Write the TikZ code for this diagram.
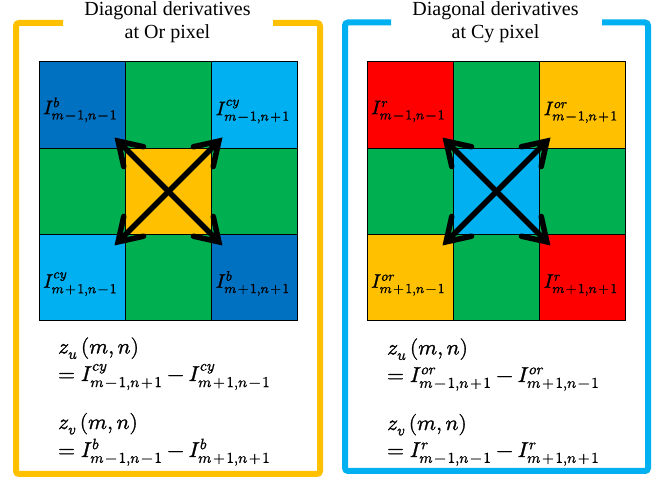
\documentclass[tikz,border=0pt]{standalone}
\usepackage{fontspec}
\usepackage{unicode-math}
\setmainfont{Liberation Serif}
\setmathfont{latinmodern-math.otf}[FakeBold=1.2]
\usetikzlibrary{arrows.meta,calc}
\definecolor{cOr}{HTML}{FFC000}
\definecolor{cCy}{HTML}{00B0F0}
\definecolor{cB}{HTML}{0070C0}
\definecolor{cG}{HTML}{00B050}
\definecolor{cR}{HTML}{FF0000}
% index m#1#2,n#3#4 in subscript, with spaced operators
\newcommand\idx[4]{m\mkern2mu#1\mkern2mu#2,n\mkern2mu#3\mkern2mu#4}
\newcommand\Iv[2]{I^{#1}_{#2}}
\newcommand\zv[1]{z_{#1}\,(m,n)}
\begin{document}
\begin{tikzpicture}[x=1pt,y=-1pt,
 cell/.style={draw=black,line width=1pt,minimum size=86.3pt,inner sep=0pt,anchor=center},
 lab/.style={anchor=base,inner sep=0pt,font=\fontsize{19.5}{22}\selectfont},
 frame/.style={line width=6pt,rounded corners=3pt},
 title/.style={font=\fontsize{20}{23}\selectfont,anchor=base,inner sep=0pt},
 eq/.style={anchor=base west,inner sep=0pt,font=\fontsize{21.5}{24}\selectfont},
 diag/.style={line width=5.5pt,-{Straight Barb[length=22pt,width=28pt,line cap=round]}}
]
\useasboundingbox (0,0) rectangle (657,481);
% frames
\draw[frame,cOr] (63,23) -- (16,23) -- (16,474) -- (320,474) -- (320,23) -- (273,23);
\draw[frame,cCy] (391,22.5) -- (345,22.5) -- (345,471) -- (648,471) -- (648,22.5) -- (602,22.5);
% titles
\node[title] (T1a) at (167.5,16) {Diagonal derivatives};
\node[title] (T1b) at (167.5,39) {at Or pixel};
\node[title] (T2a) at (495.5,16) {Diagonal derivatives};
\node[title] (T2b) at (495.5,39) {at Cy pixel};
% left grid
\node[cell,fill=cB]  (L11) at (82.15,105.15) {};
\node[cell,fill=cG]  (L12) at (168.45,105.15) {};
\node[cell,fill=cCy] (L13) at (254.75,105.15) {};
\node[cell,fill=cG]  (L21) at (82.15,191.45) {};
\node[cell,fill=cOr] (L22) at (168.45,191.45) {};
\node[cell,fill=cG]  (L23) at (254.75,191.45) {};
\node[cell,fill=cCy] (L31) at (82.15,277.75) {};
\node[cell,fill=cG]  (L32) at (168.45,277.75) {};
\node[cell,fill=cB]  (L33) at (254.75,277.75) {};
% right grid
\node[cell,fill=cR]  (R11) at (410.15,105.15) {};
\node[cell,fill=cG]  (R12) at (496.45,105.15) {};
\node[cell,fill=cOr] (R13) at (582.75,105.15) {};
\node[cell,fill=cG]  (R21) at (410.15,191.45) {};
\node[cell,fill=cCy] (R22) at (496.45,191.45) {};
\node[cell,fill=cG]  (R23) at (582.75,191.45) {};
\node[cell,fill=cOr] (R31) at (410.15,277.75) {};
\node[cell,fill=cG]  (R32) at (496.45,277.75) {};
\node[cell,fill=cR]  (R33) at (582.75,277.75) {};
% cell labels
\node[lab] (L11t) at ($(L11.center)+(-2,9)$) {$\Iv{b}{\idx{-}{1}{-}{1}}$};
\node[lab] (L13t) at ($(L13.center)+(-2,10)$) {$\Iv{cy}{\idx{-}{1}{+}{1}}$};
\node[lab] (L31t) at ($(L31.center)+(-2,10)$) {$\Iv{cy}{\idx{+}{1}{-}{1}}$};
\node[lab] (L33t) at ($(L33.center)+(-2,10)$) {$\Iv{b}{\idx{+}{1}{+}{1}}$};
\node[lab] (R11t) at ($(R11.center)+(-2,9)$) {$\Iv{r}{\idx{-}{1}{-}{1}}$};
\node[lab] (R13t) at ($(R13.center)+(-2,10)$) {$\Iv{or}{\idx{-}{1}{+}{1}}$};
\node[lab] (R31t) at ($(R31.center)+(-2,10)$) {$\Iv{or}{\idx{+}{1}{-}{1}}$};
\node[lab] (R33t) at ($(R33.center)+(-2,10)$) {$\Iv{r}{\idx{+}{1}{+}{1}}$};
% arrow tips
\coordinate (LtNW) at (114.5,137.5);
\coordinate (LtNE) at (222.5,137.5);
\coordinate (LtSW) at (114.5,245.5);
\coordinate (LtSE) at (222.5,245.5);
\coordinate (RtNW) at (442.5,137.5);
\coordinate (RtNE) at (550.5,137.5);
\coordinate (RtSW) at (442.5,245.5);
\coordinate (RtSE) at (550.5,245.5);
\foreach \t in {LtNW,LtNE,LtSW,LtSE} \draw[diag] (L22.center) -- (\t);
\foreach \t in {RtNW,RtNE,RtSW,RtSE} \draw[diag] (R22.center) -- (\t);
% equations
\node[eq] (Lzu) at (58,353.5) {$\zv{u}$};
\node[eq] (Lzu2) at (58,381) {$=\Iv{cy}{\idx{-}{1}{+}{1}}-\Iv{cy}{\idx{+}{1}{-}{1}}$};
\node[eq] (Lzv) at (58,429) {$\zv{v}$};
\node[eq] (Lzv2) at (58,457) {$=\Iv{b}{\idx{-}{1}{-}{1}}-\Iv{b}{\idx{+}{1}{+}{1}}$};
\node[eq] (Rzu) at (387,354.5) {$\zv{u}$};
\node[eq] (Rzu2) at (387,382) {$=\Iv{or}{\idx{-}{1}{+}{1}}-\Iv{or}{\idx{+}{1}{-}{1}}$};
\node[eq] (Rzv) at (387,430) {$\zv{v}$};
\node[eq] (Rzv2) at (387,457) {$=\Iv{r}{\idx{-}{1}{-}{1}}-\Iv{r}{\idx{+}{1}{+}{1}}$};
\end{tikzpicture}
\end{document}
